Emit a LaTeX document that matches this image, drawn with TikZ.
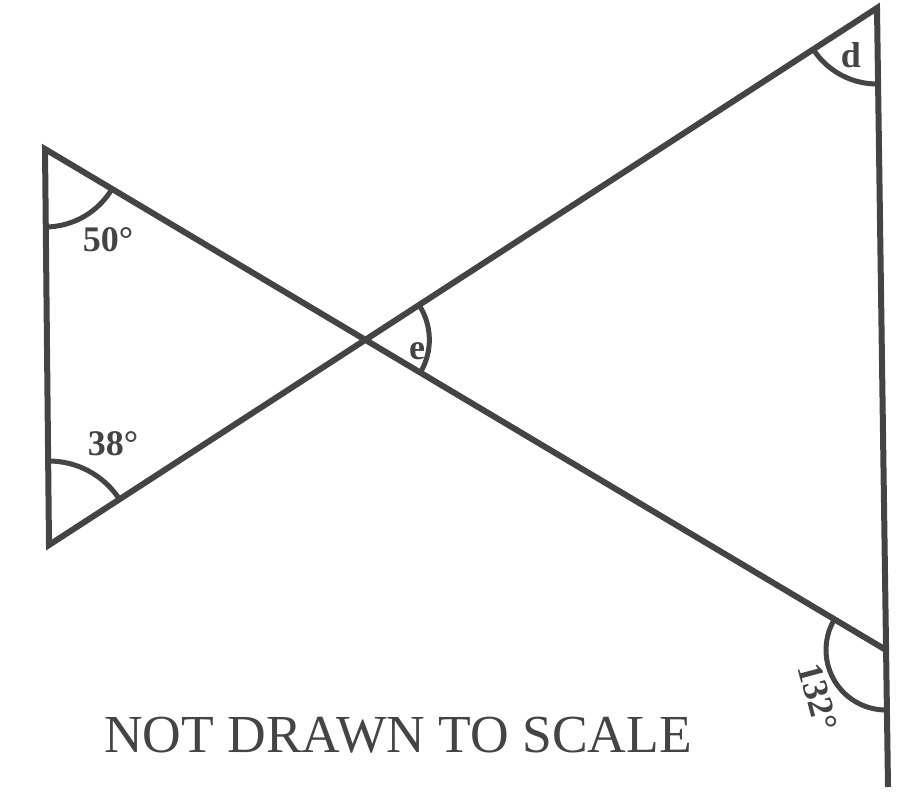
\documentclass[tikz,border=0pt]{standalone}
\usepackage{fontspec}
\setmainfont{Liberation Serif}
\usetikzlibrary{angles}
\definecolor{ink}{HTML}{444444}
\tikzset{
  edge/.style={draw=ink, line width=6pt, line join=miter},
  arcmark/.style={draw=ink, line width=5pt},
  lbl/.style={text=ink, font=\bfseries\fontsize{36}{40}\selectfont, inner sep=0pt},
}
\begin{document}
\begin{tikzpicture}[x=1pt,y=-1pt]
\useasboundingbox (0,0) rectangle (913,809);
\coordinate (A) at (45,149);
\coordinate (B) at (49,545);
\coordinate (C) at (877,8);
\coordinate (E) at (888,787);
\coordinate (D) at (886,650);
\coordinate (O) at (intersection of A--D and B--C);
\path[edge] (E) -- (C) -- (B) -- (A) -- (D);
\pic[arcmark, angle radius=78pt] {angle = B--A--D};
\pic[arcmark, angle radius=84pt] {angle = C--B--A};
\pic[arcmark, angle radius=64pt] {angle = D--O--C};
\pic[arcmark, angle radius=76pt] {angle = B--C--E};
\pic[arcmark, angle radius=60pt] {angle = A--D--E};
\node[lbl] (l50) at (108,240) {50°};
\node[lbl] (l38) at (113,444) {38°};
\node[lbl] (le) at (417,351) {e};
\node[lbl] (ld) at (851,55) {d};
\node[lbl, rotate=-75] (l132) at (818,697) {132°};
\node[text=ink, font=\fontsize{53.5}{60}\selectfont, inner sep=0pt] (note) at (398,735) {NOT DRAWN TO SCALE};
\end{tikzpicture}
\end{document}
